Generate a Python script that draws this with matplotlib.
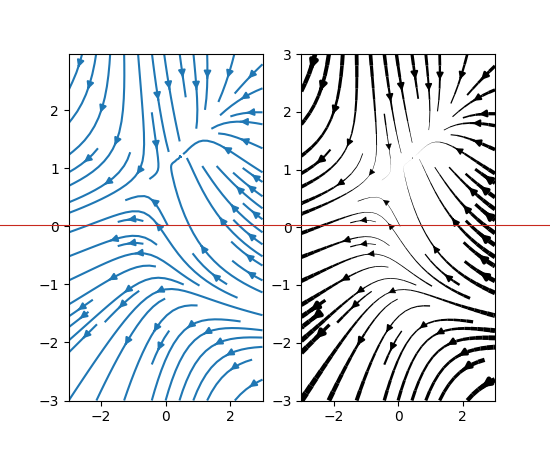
import numpy as np
import matplotlib
matplotlib.use("Agg")
import matplotlib.pyplot as plt
from matplotlib.lines import Line2D

# grid extent and resolution of the vector field
w = 3
ny, nx = 100, 200
# left panel y limit stops just short of 3 (no "3" tick there)
y_top_left = 2.97
dens = [0.5, 1]

Y, X = np.mgrid[-w:w:complex(0, ny), -w:w:complex(0, nx)]
U = -1 - X**2 + Y
V = 1 + X - Y**2
speed = np.sqrt(U**2 + V**2)
lw = 5 * speed / speed.max()

fig, (ax1, ax2) = plt.subplots(1, 2, figsize=(5.5, 4.5), dpi=100)

ax1.streamplot(X, Y, U, V, density=dens)
ax1.set_xlim(-w, w)
ax1.set_ylim(-w, y_top_left)

ax2.streamplot(X, Y, U, V, density=dens, color='k', linewidth=lw)
ax2.set_xlim(-w, w)
ax2.set_ylim(-w, w)

# red line across the whole figure at mid height
fig.add_artist(Line2D([0, 1], [0.5, 0.5], color='#c8281e', lw=0.8,
                      transform=fig.transFigure))

fig.savefig("out.png")
